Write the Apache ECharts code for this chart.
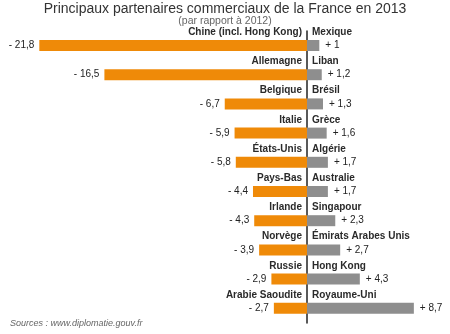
<!DOCTYPE html>
<html>
<head>
<meta charset="utf-8">
<script src="https://cdn.jsdelivr.net/npm/echarts@6/dist/echarts.min.js"></script>
<style>html,body{margin:0;padding:0;background:#fff}#c{width:450px;height:334px}</style>
</head>
<body>
<div id="c"></div>
<script>
var leftNames = ['Chine (incl. Hong Kong)', 'Allemagne', 'Belgique', 'Italie', 'États-Unis', 'Pays-Bas', 'Irlande', 'Norvège', 'Russie', 'Arabie Saoudite'];
var leftValues = [-21.8, -16.5, -6.7, -5.9, -5.8, -4.4, -4.3, -3.9, -2.9, -2.7];
var rightNames = ['Mexique', 'Liban', 'Brésil', 'Grèce', 'Algérie', 'Australie', 'Singapour', 'Émirats Arabes Unis', 'Hong Kong', 'Royaume-Uni'];
var rightValues = [1, 1.2, 1.3, 1.6, 1.7, 1.7, 2.3, 2.7, 4.3, 8.7];
var titleText = 'Principaux partenaires commerciaux de la France en 2013';
var subText = '(par rapport à 2012)';
var sourceText = 'Sources : www.diplomatie.gouv.fr';

var FONT = 'Liberation Sans';
function fr(v) { return String(Math.abs(v)).replace('.', ','); }
var zeros = leftNames.map(function () { return 0; });

var chart = echarts.init(document.getElementById('c'), null, { renderer: 'canvas' });
chart.setOption({
  animation: false,
  backgroundColor: '#fff',
  title: [
    { text: titleText, left: 'center', top: 1, padding: 0,
      textStyle: { fontFamily: FONT, fontSize: 14, fontWeight: 'normal', color: '#333', lineHeight: 16 } },
    { text: subText, left: 'center', top: 15, padding: 0,
      textStyle: { fontFamily: FONT, fontSize: 10.5, fontWeight: 'normal', color: '#666', lineHeight: 12 } }
  ],
  grid: { left: 12.3, width: 429.8, top: 30.9, height: 292, containLabel: false },
  xAxis: { type: 'value', min: -24, max: 11, show: false },
  yAxis: {
    type: 'category', inverse: true, data: leftNames,
    axisLine: { onZero: true, lineStyle: { color: '#222', width: 1.5 } },
    axisTick: { show: false }, axisLabel: { show: false }, splitLine: { show: false }
  },
  series: [
    {
      type: 'bar', data: leftValues, barWidth: 11, barGap: '-100%',
      itemStyle: { color: '#EF8A08' },
      label: { show: true, position: 'left', distance: 5, color: '#222', fontFamily: FONT, fontSize: 10,
        formatter: function (p) { return '- ' + fr(p.value); } }
    },
    {
      type: 'bar', data: rightValues, barWidth: 11, barGap: '-100%',
      itemStyle: { color: '#8E8E8E' },
      label: { show: true, position: 'right', distance: 6, color: '#222', fontFamily: FONT, fontSize: 10,
        formatter: function (p) { return '+ ' + fr(p.value); } }
    },
    {
      type: 'bar', data: zeros, barWidth: 11, barGap: '-100%', silent: true,
      itemStyle: { color: 'transparent' },
      label: { show: true, position: 'left', distance: 5, offset: [0, -13.3], color: '#2a2a2a', fontFamily: FONT, fontSize: 10, fontWeight: 'bold',
        formatter: function (p) { return leftNames[p.dataIndex]; } }
    },
    {
      type: 'bar', data: zeros, barWidth: 11, barGap: '-100%', silent: true,
      itemStyle: { color: 'transparent' },
      label: { show: true, position: 'right', distance: 5, offset: [0, -13.3], color: '#2a2a2a', fontFamily: FONT, fontSize: 10, fontWeight: 'bold',
        formatter: function (p) { return rightNames[p.dataIndex]; } }
    }
  ],
  graphic: [{
    type: 'text', left: 10, top: 319,
    style: { text: sourceText, fill: '#666', font: 'italic 9px "Liberation Sans"' }
  }]
});
</script>
</body>
</html>
